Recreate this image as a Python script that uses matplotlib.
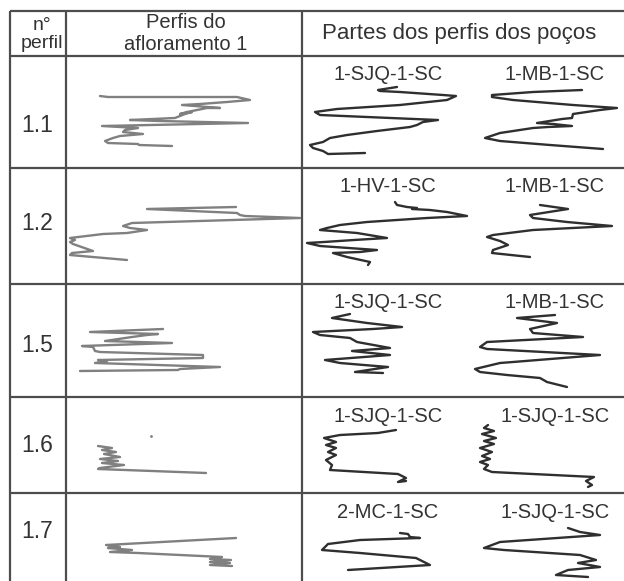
import numpy as np
import matplotlib.pyplot as plt

plt.rcParams['font.family'] = ['Liberation Sans', 'DejaVu Sans']

# table contents
perfis = ['1.1', '1.2', '1.5', '1.6', '1.7']
pocos = [('1-SJQ-1-SC', '1-MB-1-SC'),
         ('1-HV-1-SC', '1-MB-1-SC'),
         ('1-SJQ-1-SC', '1-MB-1-SC'),
         ('1-SJQ-1-SC', '1-SJQ-1-SC'),
         ('2-MC-1-SC', '1-SJQ-1-SC')]

# outcrop profiles (value, depth) in cell units
afl_11 = [(34, 40), (42, 41), (171, 41), (184, 44), (161, 46), (134, 48), (116, 49),
          (154, 52), (141, 52), (131, 54), (121, 56), (114, 58), (126, 56), (119, 58),
          (109, 62), (64, 64), (94, 65), (182, 67), (36, 70), (72, 72), (59, 74),
          (57, 76), (77, 78), (54, 80), (47, 82), (39, 85), (42, 87), (72, 88),
          (73, 89), (106, 90)]
afl_12 = [(170, 39), (81, 41), (171, 45), (174, 47), (179, 48), (234, 50), (66, 55),
          (57, 58), (64, 60), (81, 62), (61, 65), (37, 66), (4, 70), (9, 72), (4, 74),
          (7, 76), (27, 83), (6, 85), (4, 87), (61, 92)]
afl_15 = [(97, 45), (24, 48), (92, 50), (81, 51), (66, 53), (39, 57), (106, 59),
          (16, 62), (27, 63), (29, 67), (34, 68), (137, 71), (137, 74), (32, 76),
          (41, 77), (29, 79), (154, 83), (114, 85), (112, 86), (14, 87)]
afl_16 = [(32, 49), (46, 51), (36, 53), (50, 55), (38, 57), (54, 60), (34, 62),
          (52, 64), (36, 66), (58, 68), (34, 71), (32, 72), (140, 76)]
afl_17 = [(170, 45), (40, 52), (54, 54), (42, 55), (66, 57), (44, 59), (72, 60),
          (156, 64), (144, 66), (165, 67), (144, 69), (164, 70), (144, 72), (166, 73)]

# well log excerpts (value, depth) in cell units, left and right well
poco_11a = [(95, 31), (76, 34), (78, 35), (98, 36), (141, 39), (154, 40), (145, 44),
            (98, 49), (35, 53), (13, 56), (18, 59), (65, 61), (136, 64), (121, 66),
            (115, 69), (108, 71), (75, 75), (45, 79), (28, 82), (21, 86), (8, 89),
            (11, 92), (21, 95), (26, 98), (63, 97)]
poco_11b = [(280, 34), (231, 36), (190, 39), (190, 41), (211, 44), (271, 49), (315, 52),
            (298, 54), (271, 58), (270, 62), (260, 63), (235, 67), (251, 68), (270, 70),
            (246, 71), (231, 72), (198, 77), (183, 82), (198, 85), (248, 89), (301, 93)]
poco_12a = [(93, 34), (95, 37), (105, 39), (115, 40), (110, 41), (128, 42), (145, 44),
            (165, 48), (125, 50), (65, 54), (38, 57), (25, 60), (18, 62), (55, 65),
            (85, 70), (52, 72), (22, 74), (5, 75), (18, 78), (75, 82), (58, 84),
            (31, 85), (45, 89), (68, 94), (66, 97)]
poco_12b = [(238, 37), (266, 41), (228, 47), (231, 50), (265, 54), (310, 58), (231, 62),
            (191, 67), (185, 69), (198, 73), (206, 77), (191, 82), (190, 85), (228, 89)]
poco_15a = [(48, 30), (30, 34), (65, 39), (100, 43), (71, 45), (11, 48), (18, 51),
            (48, 54), (55, 58), (88, 64), (50, 67), (88, 71), (23, 76), (38, 79),
            (86, 83), (53, 88), (81, 89)]
poco_15b = [(253, 31), (215, 34), (255, 39), (228, 45), (231, 49), (281, 53), (185, 58),
            (178, 63), (185, 65), (298, 71), (211, 78), (198, 79), (173, 85), (178, 88),
            (205, 91), (238, 94), (245, 98), (265, 103)]
poco_16a = [(94, 33), (76, 36), (38, 38), (22, 41), (34, 45), (24, 48), (34, 51),
            (26, 55), (34, 58), (24, 63), (30, 68), (28, 73), (96, 77), (104, 81),
            (96, 85), (104, 84)]
poco_16b = [(186, 28), (182, 31), (192, 34), (180, 37), (194, 41), (182, 44), (192, 47),
            (178, 51), (190, 55), (180, 59), (188, 62), (178, 65), (186, 68), (182, 72),
            (190, 75), (292, 80), (284, 84), (290, 88), (286, 90)]
poco_17a = [(98, 40), (106, 41), (108, 44), (118, 45), (58, 47), (26, 51), (20, 57),
            (58, 60), (114, 65), (128, 72), (46, 77)]
poco_17b = [(266, 35), (278, 39), (298, 42), (198, 49), (182, 55), (202, 57), (278, 62),
            (294, 67), (276, 70), (298, 74), (266, 77), (254, 82), (286, 84)]

afloramento = [afl_11, afl_12, afl_15, afl_16, afl_17]
partes_pocos = [(poco_11a, poco_11b), (poco_12a, poco_12b), (poco_15a, poco_15b),
                (poco_16a, poco_16b), (poco_17a, poco_17b)]

# table layout in pixels
W, H = 624, 581
col_x = [10, 66, 302, 640]
row_y = [11, 56, 168, 284, 397, 493, 600]
label_y = [125, 224, 345, 445, 532]

fig = plt.figure(figsize=(W / 100, H / 100), dpi=100)
ax = fig.add_axes([0, 0, 1, 1])
ax.set_xlim(0, W)
ax.set_ylim(H, 0)
ax.axis('off')

grid = '#4d4d4d'
for y in row_y:
    ax.plot([col_x[0], col_x[-1]], [y, y], color=grid, lw=1.6, solid_capstyle='butt')
for x in col_x:
    ax.plot([x, x], [row_y[0], row_y[-1]], color=grid, lw=1.6, solid_capstyle='butt')

txt = '#333333'
ax.text(42, 26, 'n°', ha='center', va='center', fontsize=14, color=txt)
ax.text(42, 43, 'perfil', ha='center', va='center', fontsize=14, color=txt)
ax.text(186, 22, 'Perfis do', ha='center', va='center', fontsize=14.5, color=txt)
ax.text(186, 44, 'afloramento 1', ha='center', va='center', fontsize=14.5, color=txt)
ax.text(459, 34, 'Partes dos perfis dos poços', ha='center', va='center',
        fontsize=16, color=txt)

for i, lab in enumerate(perfis):
    ax.text(37, label_y[i], lab, ha='center', va='center', fontsize=16.5, color=txt)

for i in range(len(perfis)):
    top = row_y[i + 1]
    h = row_y[i + 2] - top

    # outcrop profile cell
    w1 = col_x[2] - col_x[1]
    a1 = ax.inset_axes([col_x[1], top, w1, h], transform=ax.transData)
    a1.set_xlim(0, w1)
    a1.set_ylim(h, 0)
    a1.axis('off')
    c = np.array(afloramento[i])
    a1.plot(c[:, 0], c[:, 1], color='#808080', lw=1.7,
            solid_joinstyle='round', solid_capstyle='round')
    if i == 3:
        a1.plot(85, 39, '.', color='#808080', ms=2)

    # well log cell
    w2 = col_x[3] - col_x[2]
    a2 = ax.inset_axes([col_x[2], top, w2, h], transform=ax.transData)
    a2.set_xlim(0, w2)
    a2.set_ylim(h, 0)
    a2.axis('off')
    for c in partes_pocos[i]:
        c = np.array(c)
        a2.plot(c[:, 0], c[:, 1], color='#2f2f2f', lw=1.7,
                solid_joinstyle='round', solid_capstyle='round')
    a2.text(86, 19, pocos[i][0], ha='center', va='center', fontsize=14.5, color=txt)
    a2.text(253, 19, pocos[i][1], ha='center', va='center', fontsize=14.5, color=txt)

fig.savefig('out.png', dpi=100)
